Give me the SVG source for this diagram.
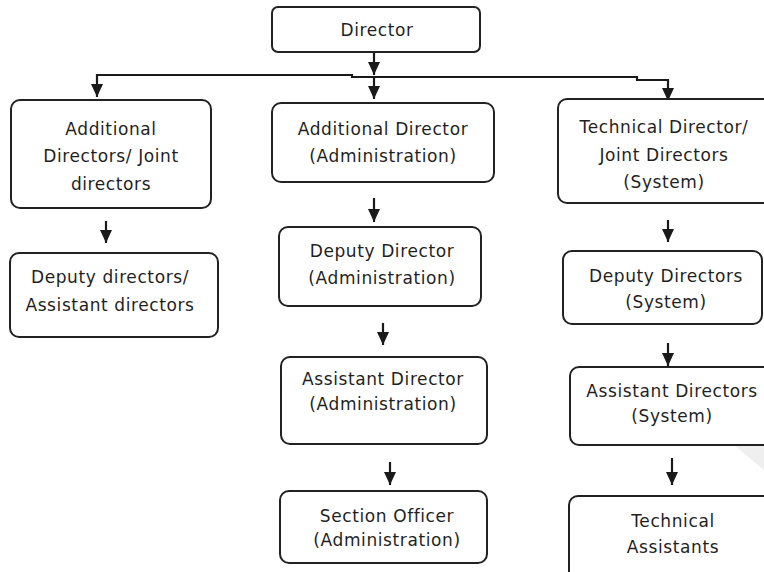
<svg xmlns="http://www.w3.org/2000/svg" width="764" height="572" viewBox="0 0 764 572">
<defs>
<marker id="ah" markerUnits="userSpaceOnUse" markerWidth="14" markerHeight="14" viewBox="0 0 14 14" refX="13" refY="7" orient="auto-start-reverse">
<path d="M0,1 L13,7 L0,13 Z" fill="#1a1a1a"/>
</marker>
<style>
.box{fill:#fff;stroke:#222;stroke-width:2}
.t{font-family:"DejaVu Sans","Liberation Sans",sans-serif;font-size:17px;fill:#1f1f1f;text-anchor:middle;letter-spacing:0.6px}
.c{fill:none;stroke:#1a1a1a;stroke-width:2.2}
</style>
</defs>
<rect width="764" height="572" fill="#fff"/>
<g id="watermark" fill="#efefef">
<polygon points="728,440 764,440 764,470"/>
<polygon points="690,500 712,500 764,550 764,572 752,572"/>
<polygon points="700,572 716,545 730,572"/>
</g>
<g id="connectors">
<path class="c" d="M374,52 V75" marker-end="url(#ah)"/>
<path class="c" d="M97,97 V75 H352 V77 H637 V80 H668 V101" marker-start="url(#ah)" marker-end="url(#ah)"/>
<path class="c" d="M374,77 V99" marker-end="url(#ah)"/>
<path class="c" d="M106,221 V243" marker-end="url(#ah)"/>
<path class="c" d="M374,198 V222" marker-end="url(#ah)"/>
<path class="c" d="M383,323 V345" marker-end="url(#ah)"/>
<path class="c" d="M390,462 V485" marker-end="url(#ah)"/>
<path class="c" d="M668,220 V242" marker-end="url(#ah)"/>
<path class="c" d="M668,343 V366" marker-end="url(#ah)"/>
<path class="c" d="M672,458 V485" marker-end="url(#ah)"/>
</g>
<g id="director"><rect class="box" x="272" y="7" width="208" height="45" rx="6"/><text class="t" x="377" y="36">Director</text></g>
<g id="addl-directors"><rect class="box" x="11" y="100" width="200" height="108" rx="9"/><text class="t" x="111" y="135">Additional</text><text class="t" x="111" y="162">Directors/ Joint</text><text class="t" x="111" y="190">directors</text></g>
<g id="addl-director-admin"><rect class="box" x="272" y="103" width="222" height="79" rx="9"/><text class="t" x="383" y="135">Additional Director</text><text class="t" x="383" y="162">(Administration)</text></g>
<g id="technical-director"><rect class="box" x="558" y="99" width="220" height="104" rx="9"/><text class="t" x="664" y="133">Technical Director/</text><text class="t" x="664" y="161">Joint Directors</text><text class="t" x="664" y="188">(System)</text></g>
<g id="deputy-directors"><rect class="box" x="10" y="253" width="208" height="84" rx="9"/><text class="t" x="110" y="283">Deputy directors/</text><text class="t" x="110" y="311">Assistant directors</text></g>
<g id="deputy-director-admin"><rect class="box" x="279" y="227" width="202" height="79" rx="9"/><text class="t" x="382" y="257">Deputy Director</text><text class="t" x="382" y="284">(Administration)</text></g>
<g id="deputy-directors-system"><rect class="box" x="563" y="251" width="199" height="73" rx="9"/><text class="t" x="666" y="282">Deputy Directors</text><text class="t" x="666" y="308">(System)</text></g>
<g id="assistant-director-admin"><rect class="box" x="281" y="357" width="206" height="87" rx="9"/><text class="t" x="383" y="385">Assistant Director</text><text class="t" x="383" y="410">(Administration)</text></g>
<g id="assistant-directors-system"><rect class="box" x="570" y="367" width="210" height="78" rx="9"/><text class="t" x="672" y="397">Assistant Directors</text><text class="t" x="672" y="422">(System)</text></g>
<g id="section-officer"><rect class="box" x="280" y="491" width="207" height="72" rx="9"/><text class="t" x="387" y="522">Section Officer</text><text class="t" x="387" y="546">(Administration)</text></g>
<g id="technical-assistants"><rect class="box" x="569" y="496" width="210" height="90" rx="9"/><text class="t" x="673" y="527">Technical</text><text class="t" x="673" y="553">Assistants</text></g>
</svg>
